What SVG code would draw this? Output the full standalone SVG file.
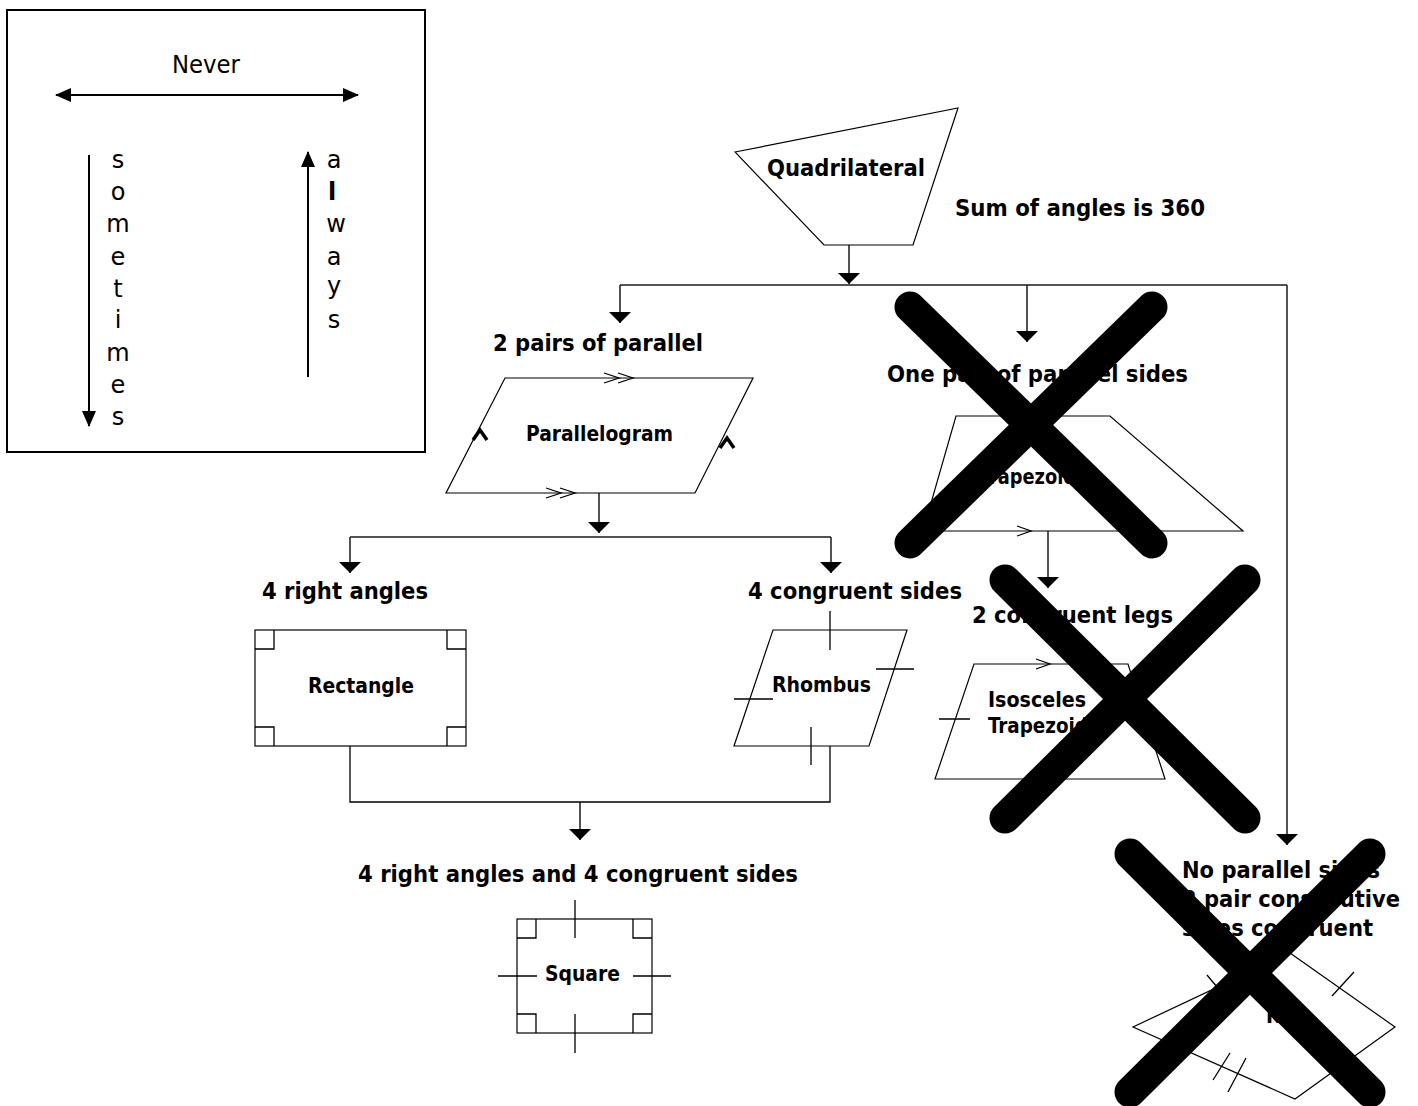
<svg xmlns="http://www.w3.org/2000/svg" width="1418" height="1106" viewBox="0 0 1418 1106">
<defs>
<marker id="ah" markerUnits="userSpaceOnUse" markerWidth="12" markerHeight="22" refX="11" refY="11" orient="auto" viewBox="0 0 12 22"><path d="M0,0 L11,11 L0,22 Z" fill="#000"/></marker>
<marker id="lh" markerUnits="userSpaceOnUse" markerWidth="16" markerHeight="14" refX="15" refY="7" orient="auto-start-reverse" viewBox="0 0 16 14"><path d="M0,0 L16,7 L0,14 Z" fill="#000"/></marker>
<style>
.ln{stroke:#000;stroke-width:1.3;fill:none}
.sh{stroke:#000;stroke-width:1.2;fill:#fff}
.c{stroke:#1a1a1a;stroke-width:1.5;fill:none}
.lbl{font-family:"DejaVu Sans Condensed","DejaVu Sans",sans-serif;font-weight:bold;font-size:23px;fill:#000}
.nt{font-family:"DejaVu Sans Condensed","DejaVu Sans",sans-serif;font-weight:bold;font-size:21px;fill:#000}
.lg{font-family:"DejaVu Sans","Verdana",sans-serif;font-size:24px;fill:#000;text-anchor:middle}
.x{stroke:#000;stroke-width:31;stroke-linecap:round}
.hat{stroke:#000;stroke-width:3.5;fill:none}
</style>
</defs>
<rect width="1418" height="1106" fill="#fff"/>

<g id="legend">
<rect x="7" y="10" width="418" height="442" fill="none" stroke="#000" stroke-width="2"/>
<text class="lg" x="206" y="73" textLength="68" lengthAdjust="spacingAndGlyphs">Never</text>
<line x1="56" y1="95" x2="358" y2="95" stroke="#000" stroke-width="2" marker-start="url(#lh)" marker-end="url(#lh)"/>
<line x1="89" y1="155" x2="89" y2="426" stroke="#000" stroke-width="2" marker-end="url(#lh)"/>
<line x1="308" y1="377" x2="308" y2="152" stroke="#000" stroke-width="2" marker-end="url(#lh)"/>
<text class="lg" x="118" y="168">s</text>
<text class="lg" x="118" y="200">o</text>
<text class="lg" x="118" y="232">m</text>
<text class="lg" x="118" y="265">e</text>
<text class="lg" x="118" y="297">t</text>
<text class="lg" x="118" y="328">i</text>
<text class="lg" x="118" y="361">m</text>
<text class="lg" x="118" y="393">e</text>
<text class="lg" x="118" y="425">s</text>
<text class="lg" x="334" y="168">a</text>
<text class="lg" x="332" y="200" font-weight="bold">l</text>
<text class="lg" x="336" y="232">w</text>
<text class="lg" x="334" y="265">a</text>
<text class="lg" x="334" y="294">y</text>
<text class="lg" x="334" y="328">s</text>
</g>

<g id="connectors">
<path class="c" d="M849,245 V284" marker-end="url(#ah)"/>
<path class="c" d="M620,285 H1287"/>
<path class="c" d="M620,285 V323" marker-end="url(#ah)"/>
<path class="c" d="M1027,285 V342" marker-end="url(#ah)"/>
<path class="c" d="M1287,285 V845" marker-end="url(#ah)"/>
<path class="c" d="M599,493 V533" marker-end="url(#ah)"/>
<path class="c" d="M350,537 H831"/>
<path class="c" d="M350,537 V573" marker-end="url(#ah)"/>
<path class="c" d="M831,537 V573" marker-end="url(#ah)"/>
<path class="c" d="M1048,531 V588" marker-end="url(#ah)"/>
<path class="ln" d="M350,746 V802 H830 V746"/>
<path class="c" d="M580,802 V840" marker-end="url(#ah)"/>
</g>

<g id="quadrilateral">
<polygon class="sh" points="735,152 958,108 913,245 824,245"/>
<text class="lbl" x="767" y="176" textLength="158" lengthAdjust="spacingAndGlyphs">Quadrilateral</text>
<text class="lbl" x="955" y="216" textLength="250" lengthAdjust="spacingAndGlyphs">Sum of angles is 360</text>
</g>

<g id="parallelogram">
<text class="lbl" x="493" y="351" textLength="210" lengthAdjust="spacingAndGlyphs">2 pairs of parallel</text>
<polygon class="sh" points="505,378 753,378 695,493 446,493"/>
<path class="ln" d="M604,373 L619,378 L604,383 M618,373 L633,378 L618,383"/>
<path class="ln" d="M546,488 L561,493 L546,498 M560,488 L575,493 L560,498"/>
<path class="hat" d="M473,440 L480,430 L487,440"/>
<path class="hat" d="M720,448 L727,438 L734,448"/>
<text class="nt" x="526" y="441" textLength="147" lengthAdjust="spacingAndGlyphs">Parallelogram</text>
</g>

<g id="rectangle">
<text class="lbl" x="262" y="599" textLength="166" lengthAdjust="spacingAndGlyphs">4 right angles</text>
<rect class="sh" x="255" y="630" width="211" height="116"/>
<path class="ln" d="M255,649 H274 V630 M447,630 V649 H466 M255,727 H274 V746 M447,746 V727 H466"/>
<text class="nt" x="308" y="693" textLength="106" lengthAdjust="spacingAndGlyphs">Rectangle</text>
</g>

<g id="rhombus">
<text class="lbl" x="748" y="599" textLength="214" lengthAdjust="spacingAndGlyphs">4 congruent sides</text>
<polygon class="sh" points="773,630 907,630 869,746 734,746"/>
<path class="ln" d="M830,611 V650 M876,669 H914 M734,699 H773 M811,727 V765"/>
<text class="nt" x="772" y="692" textLength="99" lengthAdjust="spacingAndGlyphs">Rhombus</text>
</g>

<g id="square">
<text class="lbl" x="358" y="882" textLength="440" lengthAdjust="spacingAndGlyphs">4 right angles and 4 congruent sides</text>
<rect class="sh" x="517" y="919" width="135" height="114"/>
<path class="ln" d="M517,938 H536 V919 M633,919 V938 H652 M517,1014 H536 V1033 M633,1033 V1014 H652"/>
<path class="ln" d="M575,900 V938 M575,1014 V1053 M498,976 H537 M633,976 H671"/>
<text class="nt" x="545" y="981" textLength="75" lengthAdjust="spacingAndGlyphs">Square</text>
</g>

<g id="trapezoid">
<text class="lbl" x="887" y="382" textLength="301" lengthAdjust="spacingAndGlyphs">One pair of parallel sides</text>
<polygon class="sh" points="956,416 1110,416 1243,531 923,531"/>
<path class="ln" d="M1017,526 L1031,531 L1017,536"/>
<text class="nt" x="979" y="484" textLength="97" lengthAdjust="spacingAndGlyphs">Trapezoid</text>
</g>

<g id="isosceles-trapezoid">
<text class="lbl" x="972" y="623" textLength="201" lengthAdjust="spacingAndGlyphs">2 congruent legs</text>
<polygon class="sh" points="974,664 1128,664 1165,779 935,779"/>
<path class="ln" d="M1036,659 L1050,664 L1036,669 M939,719 H970"/>
<text class="nt" x="988" y="707" textLength="98" lengthAdjust="spacingAndGlyphs">Isosceles</text>
<text class="nt" x="988" y="733" textLength="100" lengthAdjust="spacingAndGlyphs">Trapezoid</text>
</g>

<g id="kite">
<text class="lbl" x="1182" y="878" textLength="198" lengthAdjust="spacingAndGlyphs">No parallel sides</text>
<text class="lbl" x="1182" y="907" textLength="218" lengthAdjust="spacingAndGlyphs">2 pair consecutive</text>
<text class="lbl" x="1182" y="936" textLength="191" lengthAdjust="spacingAndGlyphs">sides congruent</text>
<polygon class="sh" points="1290,953 1395,1027 1295,1099 1133,1027"/>
<path class="ln" d="M1207,975 L1217,987 M1332,996 L1354,972 M1213,1080 L1230,1053 M1228,1092 L1246,1058"/>
<text class="nt" x="1266" y="1023">Kite</text>
</g>

<g id="crosses">
<path class="x" d="M910,307 L1152,543 M1152,307 L910,543"/>
<path class="x" d="M1005,580 L1245,818 M1245,580 L1005,818"/>
<path class="x" d="M1130,854 L1370,1092 M1370,854 L1130,1092"/>
</g>
</svg>
